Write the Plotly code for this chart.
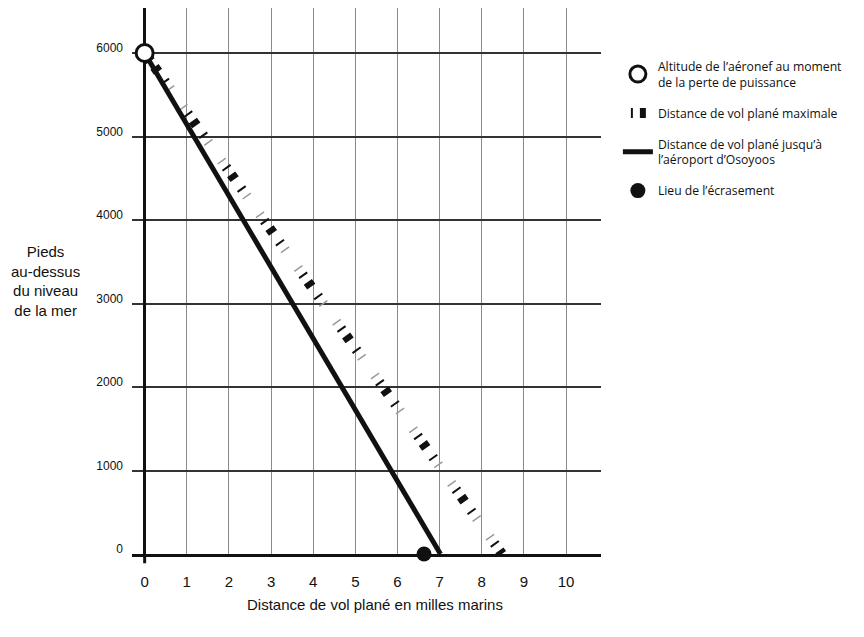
import plotly.graph_objects as go

# --- data ---
start_x = [0]
start_y = [6000]
max_glide_x = [0, 8.48]
max_glide_y = [6000, 0]
osoyoos_x = [0, 7.02]
osoyoos_y = [6000, 0]
crash_x = [6.63]
crash_y = [0]
x_ticks = [0, 1, 2, 3, 4, 5, 6, 7, 8, 9, 10]
y_ticks = [0, 1000, 2000, 3000, 4000, 5000, 6000]

name_start = "Altitude de l’aéronef au moment<br>de la perte de puissance"
name_max = "Distance de vol plané maximale"
name_oso = "Distance de vol plané jusqu’à<br>l’aéroport d’Osoyoos"
name_crash = "Lieu de l’écrasement"

fig = go.Figure()

# max glide: grey thin ticks
fig.add_trace(go.Scatter(
    x=max_glide_x, y=max_glide_y, mode="lines",
    line=dict(color="#9a9a9a", width=10, dash="1.5px,41.5px,1.5px,21.5px"),
    showlegend=False, hoverinfo="skip"))
# max glide: black ticks
fig.add_trace(go.Scatter(
    x=max_glide_x, y=max_glide_y, mode="lines", name=name_max,
    line=dict(color="#111111", width=10,
              dash="0px,8px,2px,7px,6px,11px,2px,30px"),
    legendrank=2, legendgroup="b"))
fig.add_trace(go.Scatter(
    x=osoyoos_x, y=osoyoos_y, mode="lines", name=name_oso,
    line=dict(color="#111111", width=5),
    legendrank=3, legendgroup="c"))
fig.add_trace(go.Scatter(
    x=crash_x, y=crash_y, mode="markers", name=name_crash,
    marker=dict(color="#111111", size=15, symbol="circle"),
    legendrank=4, legendgroup="d", cliponaxis=False))
fig.add_trace(go.Scatter(
    x=start_x, y=start_y, mode="markers", name=name_start,
    marker=dict(color="white", size=17, symbol="circle",
                line=dict(color="#111111", width=3)),
    legendrank=1, legendgroup="a", cliponaxis=False))

axis_font = dict(family="Liberation Sans, Arial, sans-serif", color="#111111")

fig.update_layout(
    width=864, height=637,
    margin=dict(l=124, r=271, t=0, b=91),
    paper_bgcolor="white", plot_bgcolor="white",
    xaxis=dict(
        range=[-0.3, 10.83], tickvals=x_ticks,
        ticktext=[str(v) for v in x_ticks],
        showgrid=True, gridcolor="#8a8a8a", gridwidth=1.3,
        zeroline=True, zerolinecolor="#111111", zerolinewidth=3,
        showline=True, linecolor="#111111", linewidth=3,
        ticks="", ticklabelstandoff=12,
        tickfont=dict(size=15, **axis_font),
    ),
    yaxis=dict(
        range=[0, 6539], tickvals=y_ticks,
        ticktext=[str(v) for v in y_ticks],
        showgrid=True, gridcolor="#333333", gridwidth=1.5,
        zeroline=False, showline=False,
        ticks="", ticklabelstandoff=8, ticklabelshift=-5,
        tickfont=dict(size=12, **axis_font),
    ),
    legend=dict(
        x=1.036, y=0.92, xanchor="left", yanchor="top",
        font=dict(family="Open Sans, sans-serif", size=12.2, color="#111111"),
        traceorder="grouped", tracegroupgap=12,
        bgcolor="rgba(0,0,0,0)",
    ),
    shapes=[dict(type="line", xref="x", yref="paper",
                 x0=0, x1=0, y0=0, y1=-0.017,
                 line=dict(color="#111111", width=3), layer="above")],
    annotations=[
        dict(text="Distance de vol plané en milles marins",
             xref="paper", yref="paper", x=0.518, y=-0.0934,
             xanchor="center", yanchor="middle", showarrow=False,
             font=dict(size=15, **axis_font)),
        dict(text="Pieds<br>au-dessus<br>du niveau<br>de la mer",
             xref="paper", yref="paper", x=-0.1834, y=0.5,
             xanchor="center", yanchor="middle", showarrow=False,
             align="center", font=dict(size=15, **axis_font)),
    ],
)

fig.write_html("out.html")
